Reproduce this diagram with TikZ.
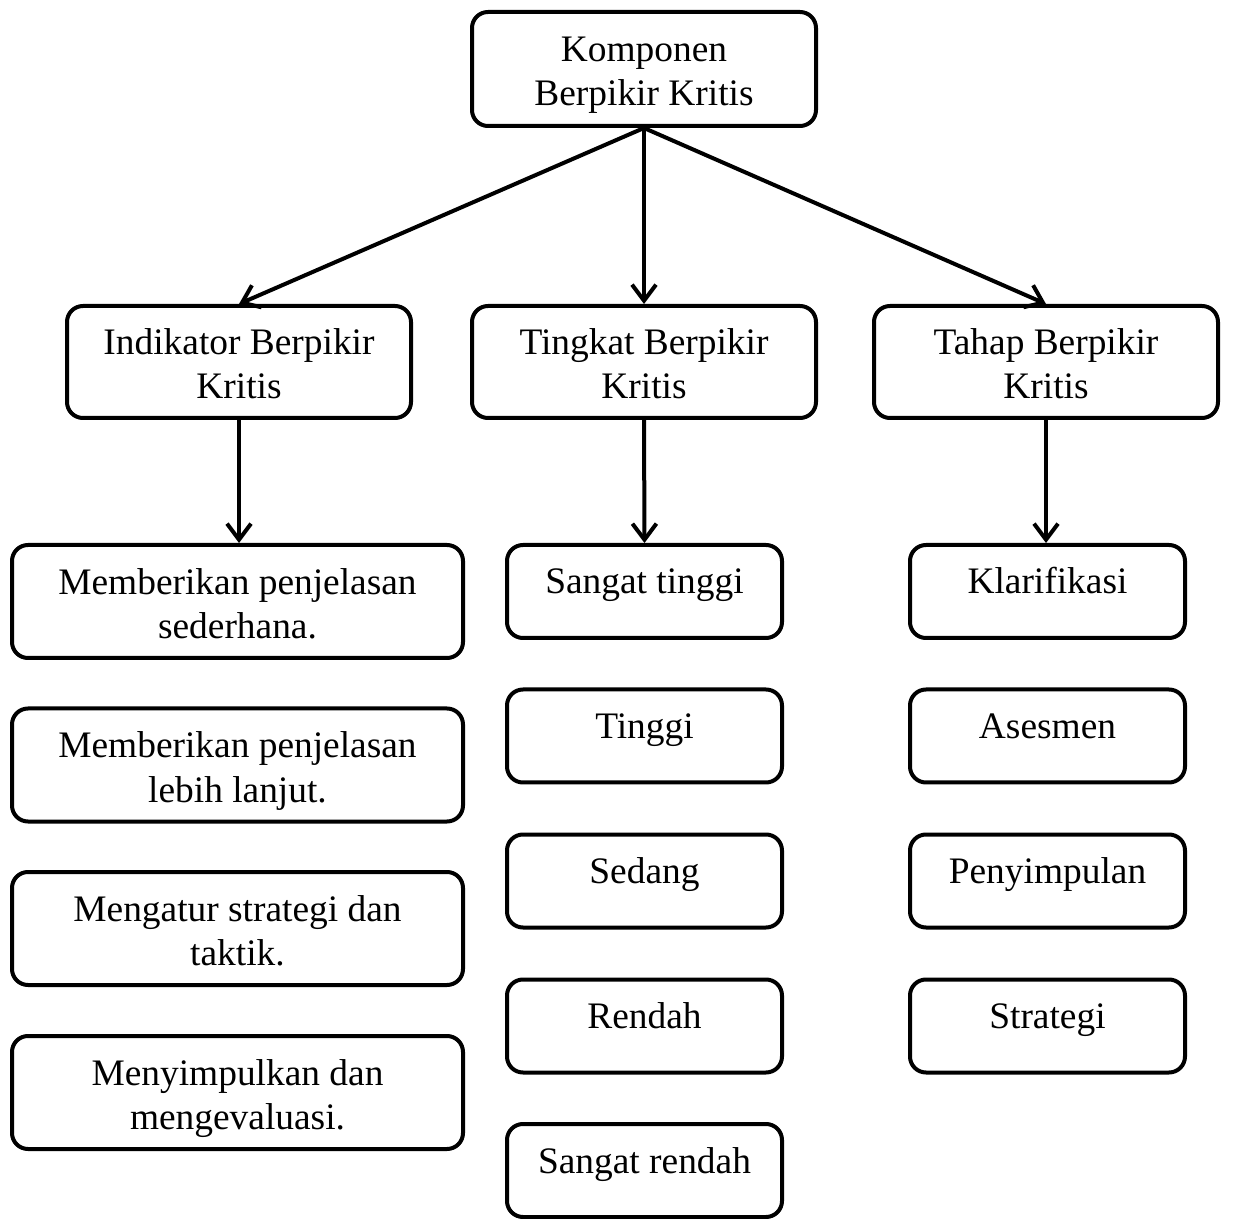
\documentclass[tikz,border=0pt]{standalone}
\usepackage{fontspec}
\setmainfont{Liberation Serif}
\usepackage{tikz}
\usetikzlibrary{positioning,arrows.meta}
\newcommand{\twolines}[2]{\rule{0pt}{20pt}#1\\#2\rule[-5pt]{0pt}{5pt}}
\tikzset{
  flowarrow/.style={-{Straight Barb[length=8pt, width=12pt, line width=2pt]}, line width=2pt},
  topbox/.style={draw, rounded corners=8pt, line width=2pt, minimum width=172pt, minimum height=57pt, align=center},
  groupbox/.style={draw, rounded corners=8pt, line width=2pt, minimum width=172pt, minimum height=56pt, align=center},
  indibox/.style={draw, rounded corners=8pt, line width=2pt, minimum width=225.5pt, minimum height=56.5pt, align=center},
  levelbox/.style={draw, rounded corners=8pt, line width=2pt, minimum width=137.5pt, inner ysep=0pt, text height=24.5pt, text depth=22pt, align=center}
}

\begin{document}
\begin{tikzpicture}[x=0.5pt, y=-0.5pt, every node/.style={font=\fontsize{18.7pt}{22pt}\selectfont}]
      \useasboundingbox (0,0) rectangle (1233,1219);
      % root
      \node[topbox] (komp) at (644,69) {\twolines{Komponen}{Berpikir Kritis}};
      % second level
      \node[groupbox] (indi) at (239,362) {\twolines{Indikator Berpikir}{Kritis}};
      \node[groupbox] (ting) at (644,362) {\twolines{Tingkat Berpikir}{Kritis}};
      \node[groupbox] (tahap) at (1046,362) {\twolines{Tahap Berpikir}{Kritis}};
      \draw[flowarrow] (komp.south) -- (indi.north);
      \draw[flowarrow] (komp.south) -- (ting.north);
      \draw[flowarrow] (komp.south) -- (tahap.north);
      % indikator
      \node[indibox] (ind1) at (237.5,601.5) {\twolines{Memberikan penjelasan}{sederhana.}};
      \node[indibox] (ind2) at (237.5,765) {\twolines{Memberikan penjelasan}{lebih lanjut.}};
      \node[indibox] (ind3) at (237.5,928.5) {\twolines{Mengatur strategi dan}{taktik.}};
      \node[indibox] (ind4) at (237.5,1092.5) {\twolines{Menyimpulkan dan}{mengevaluasi.}};
      % tingkat
      \node[levelbox] (lvl1) at (644.5,591.5) {Sangat tinggi};
      \node[levelbox] (lvl2) at (644.5,736) {Tinggi};
      \node[levelbox] (lvl3) at (644.5,881) {Sedang};
      \node[levelbox] (lvl4) at (644.5,1026) {Rendah};
      \node[levelbox] (lvl5) at (644.5,1170.5) {Sangat rendah};
      % tahap
      \node[levelbox] (thp1) at (1047.5,591.5) {Klarifikasi};
      \node[levelbox] (thp2) at (1047.5,736) {Asesmen};
      \node[levelbox] (thp3) at (1047.5,881) {Penyimpulan};
      \node[levelbox] (thp4) at (1047.5,1026) {Strategi};
      \draw[flowarrow] (indi.south) -- (indi.south |- ind1.north);
      \draw[flowarrow] (ting.south) -- (lvl1.north);
      \draw[flowarrow] (tahap.south) -- (tahap.south |- thp1.north);
\end{tikzpicture}
\end{document}
